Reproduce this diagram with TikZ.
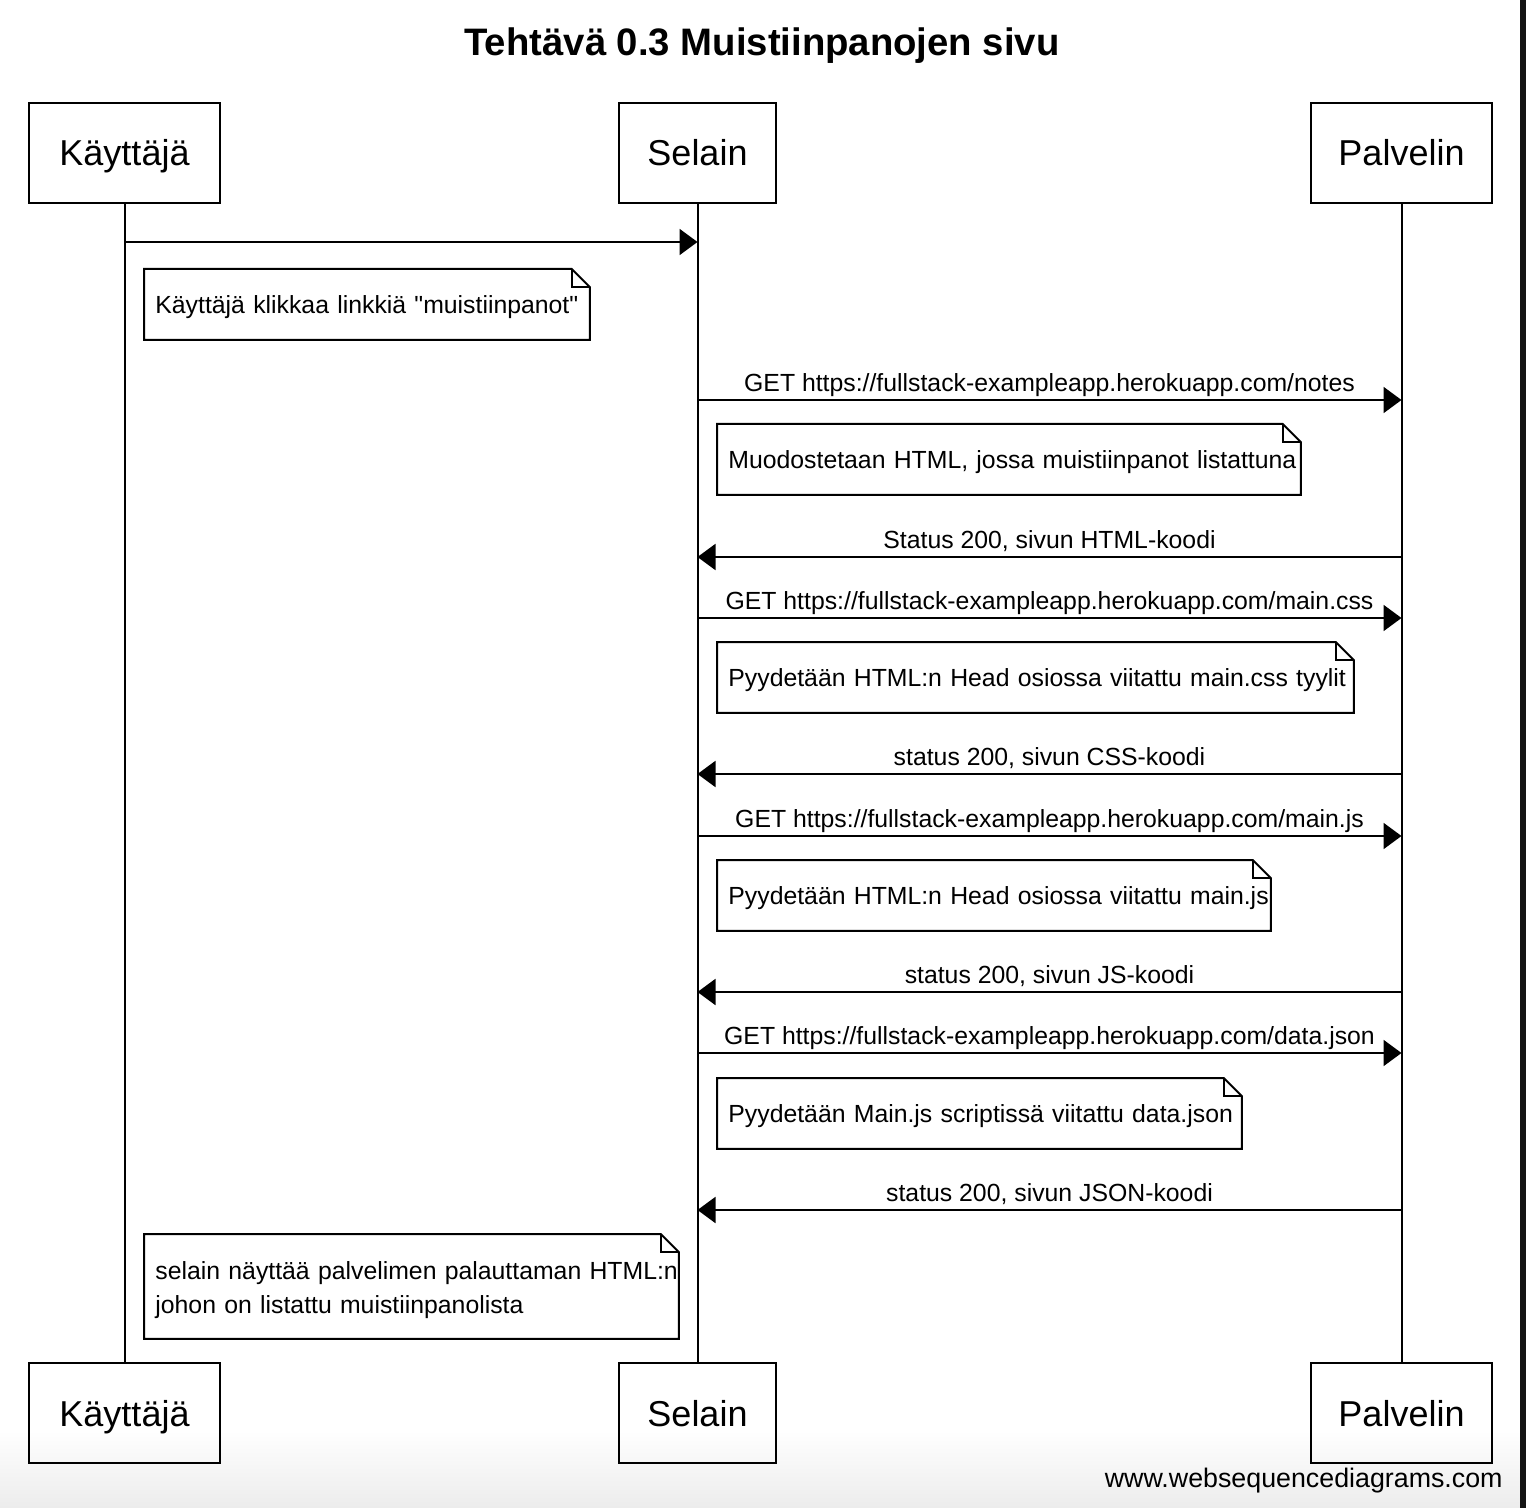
\documentclass[tikz,border=0pt]{standalone}
\usepackage{fontspec}
\setmainfont{Liberation Sans}[Ligatures=TeXOff]
\usetikzlibrary{arrows.meta}
\newcommand\dogear[1]{%
  \draw[noteline] (#1.north west) -- ([xshift=-9pt]#1.north east) -- ([yshift=-9pt]#1.north east) -- (#1.south east) -- (#1.south west) -- cycle;
  \draw[noteline] ([xshift=-9pt]#1.north east) |- ([yshift=-9pt]#1.north east);}
\begin{document}
\begin{tikzpicture}[x=0.5pt,y=-0.5pt,
  actor/.style={draw, line width=1pt, minimum height=50pt, inner sep=0pt, text height=13pt, text depth=0pt, font=\fontsize{18}{22}\selectfont},
  life/.style={line width=1pt},
  msg/.style={line width=1pt, -{Triangle[length=9pt,width=13pt]}},
  lbl/.style={font=\fontsize{12.4}{14}\selectfont, inner sep=0pt, anchor=base, yshift=4.25pt},
  notebox/.style={draw=none, anchor=north west, inner xsep=5.5pt, inner ysep=0pt, minimum height=35pt, align=left, font=\fontsize{12.4}{17}\selectfont},
  onenote/.style={notebox, text depth=0pt},
  noteline/.style={line width=1pt, line join=miter}]
\useasboundingbox (0,0) rectangle (1526,1508);
\fill[white] (0,0) rectangle (1526,1508);
\shade[top color=white, bottom color=gray!15] (0,1430) rectangle (1520,1508);
\fill[black!92] (1520,0) rectangle (1526,1508);

% title
\node[font=\bfseries\fontsize{19.15}{23}\selectfont] (title) at (762,46) {Tehtävä 0.3 Muistiinpanojen sivu};

% participants
\node[actor, minimum width=95.5pt] (kt) at (124.5,153) {Käyttäjä};
\node[actor, minimum width=78.5pt] (st) at (697.5,153) {Selain};
\node[actor, minimum width=90.5pt] (pt) at (1401.5,153) {Palvelin};
\node[actor, minimum width=95.5pt] (kb) at (124.5,1413) {Käyttäjä};
\node[actor, minimum width=78.5pt] (sb) at (697.5,1413) {Selain};
\node[actor, minimum width=90.5pt] (pb) at (1401.5,1413) {Palvelin};

\draw[life] (kt) -- (kb);
\draw[life] (st) -- (sb);
\draw[life] (pt) -- (pb);

% message end points on the lifelines
\foreach \n/\y in {1/242,2/400,3/557,4/618,5/774,6/836,7/992,8/1053,9/1210}{
  \coordinate (k\n) at (kt |- 0,\y);
  \coordinate (s\n) at (st |- 0,\y);
  \coordinate (p\n) at (pt |- 0,\y);
}

\draw[msg] (k1) -- (s1);
\draw[msg] (s2) -- node[lbl] {GET https://fullstack-exampleapp.herokuapp.com/notes} (p2);
\draw[msg] (p3) -- node[lbl] {Status 200, sivun HTML-koodi} (s3);
\draw[msg] (s4) -- node[lbl] {GET https://fullstack-exampleapp.herokuapp.com/main.css} (p4);
\draw[msg] (p5) -- node[lbl] {status 200, sivun CSS-koodi} (s5);
\draw[msg] (s6) -- node[lbl] {GET https://fullstack-exampleapp.herokuapp.com/main.js} (p6);
\draw[msg] (p7) -- node[lbl] {status 200, sivun JS-koodi} (s7);
\draw[msg] (s8) -- node[lbl] {GET https://fullstack-exampleapp.herokuapp.com/data.json} (p8);
\draw[msg] (p9) -- node[lbl] {status 200, sivun JSON-koodi} (s9);

% notes
\node[onenote, text width=211.5pt] (n1) at (144,269) {\mbox{Käyttäjä klikkaa linkkiä "muistiinpanot"}};
\dogear{n1}
\node[onenote, text width=280.5pt] (n2) at (717,424) {\mbox{Muodostetaan HTML, jossa muistiinpanot listattuna}};
\dogear{n2}
\node[onenote, text width=307pt] (n3) at (717,642) {\mbox{Pyydetään HTML:n Head osiossa viitattu main.css tyylit}};
\dogear{n3}
\node[onenote, text width=265.5pt] (n4) at (717,860) {\mbox{Pyydetään HTML:n Head osiossa viitattu main.js}};
\dogear{n4}
\node[onenote, text width=251pt] (n5) at (717,1078) {\mbox{Pyydetään Main.js scriptissä viitattu data.json}};
\dogear{n5}
\node[notebox, text width=256pt, minimum height=52pt] (n6) at (144,1234) {\mbox{\rule{0pt}{13pt}selain näyttää palvelimen palauttaman HTML:n}\\\mbox{johon on listattu muistiinpanolista}};
\dogear{n6}

% watermark
\node[anchor=base east, font=\fontsize{13.4}{16}\selectfont, inner sep=0pt] (wm) at (1503,1487) {www.websequencediagrams.com};
\end{tikzpicture}
\end{document}
